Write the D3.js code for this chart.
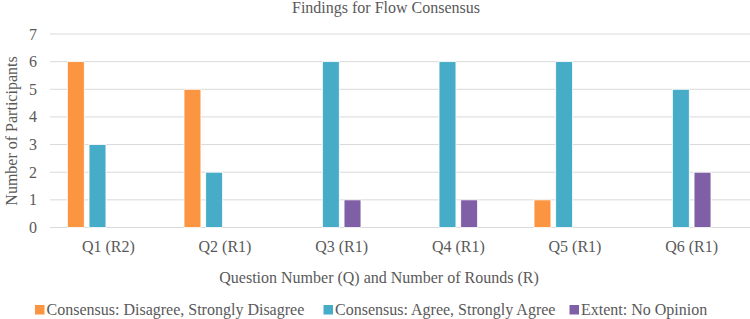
<!DOCTYPE html>
<html>
<head>
<meta charset="utf-8">
<script src="https://cdn.jsdelivr.net/npm/d3@7"></script>
<style>
  body { margin: 0; background: #fff; }
</style>
</head>
<body>
<svg id="chart" width="750" height="319" font-family="'Liberation Serif', 'DejaVu Serif', serif" fill="#595959"></svg>
<script>
// chart data
const questions = ["Q1 (R2)", "Q2 (R1)", "Q3 (R1)", "Q4 (R1)", "Q5 (R1)", "Q6 (R1)"];
const seriesNames = ["Consensus: Disagree, Strongly Disagree", "Consensus: Agree, Strongly Agree", "Extent: No Opinion"];
const disagreeValues = [6, 5, 0, 0, 1, 0];
const agreeValues = [3, 2, 6, 6, 6, 5];
const noOpinionValues = [0, 0, 1, 1, 0, 2];
const yTicks = [0, 1, 2, 3, 4, 5, 6, 7];
const seriesColors = ["#FB9542", "#46ACC8", "#7F5FA5"];

const svg = d3.select("#chart");
const serif = "'Liberation Serif', 'DejaVu Serif', serif";

// plot area
const plot = { left: 50, right: 750, top: 34, bottom: 227.5 };

// outer scale for questions, inner scale has 4 slots (the source chart keeps an empty 4th slot)
const x0 = d3.scaleBand()
             .domain(questions)
             .range([plot.left, plot.right]);
const x1 = d3.scaleBand()
             .domain([0, 1, 2, 3])
             .range([0, x0.bandwidth()])
             .paddingInner(0.22)
             .paddingOuter(0.8);
const y = d3.scaleLinear()
            .domain([0, 7])
            .range([plot.bottom, plot.top]);

// gridlines
svg.append("g")
   .selectAll("line")
   .data(yTicks)
   .join("line")
   .attr("x1", plot.left)
   .attr("x2", plot.right)
   .attr("y1", d => y(d))
   .attr("y2", d => y(d))
   .attr("stroke", "#D9D9D9")
   .attr("stroke-width", 1);

// y tick labels
svg.append("g")
   .selectAll("text")
   .data(yTicks)
   .join("text")
   .attr("x", 37)
   .attr("y", d => y(d) + 5.5)
   .attr("text-anchor", "end")
   .attr("font-family", serif)
   .attr("font-size", 16)
   .text(d => d);

// bars
const allSeries = [disagreeValues, agreeValues, noOpinionValues];
const barData = [];
allSeries.forEach((values, s) => {
    values.forEach((v, i) => {
        barData.push({ q: questions[i], s: s, v: v });
    });
});

svg.append("g")
   .selectAll("rect")
   .data(barData.filter(d => d.v > 0))
   .join("rect")
   .attr("x", d => x0(d.q) + x1(d.s))
   .attr("y", d => y(d.v))
   .attr("width", x1.bandwidth())
   .attr("height", d => y(0) - y(d.v))
   .attr("fill", d => seriesColors[d.s])
   .attr("stroke", "#ffffff")
   .attr("stroke-width", 0.8);

// category labels
svg.append("g")
   .selectAll("text")
   .data(questions)
   .join("text")
   .attr("x", d => x0(d) + x0.bandwidth() / 2)
   .attr("y", 252)
   .attr("text-anchor", "middle")
   .attr("font-family", serif)
   .attr("font-size", 16)
   .text(d => d);

// title
svg.append("text")
   .attr("x", 386)
   .attr("y", 13)
   .attr("text-anchor", "middle")
   .attr("font-family", serif)
   .attr("font-size", 16)
   .text("Findings for Flow Consensus");

// axis titles
svg.append("text")
   .attr("x", 379)
   .attr("y", 283)
   .attr("text-anchor", "middle")
   .attr("font-family", serif)
   .attr("font-size", 16)
   .text("Question Number (Q) and Number of Rounds (R)");

svg.append("text")
   .attr("transform", "translate(17,131) rotate(-90)")
   .attr("text-anchor", "middle")
   .attr("font-family", serif)
   .attr("font-size", 16)
   .text("Number of Participants");

// legend
const legendX = [35, 323.5, 569.5];
const legend = svg.append("g")
                  .selectAll("g")
                  .data(seriesNames)
                  .join("g")
                  .attr("transform", (d, i) => "translate(" + legendX[i] + ",305)");
legend.append("rect")
      .attr("width", 9.5)
      .attr("height", 9.5)
      .attr("fill", (d, i) => seriesColors[i]);
legend.append("text")
      .attr("x", 11.5)
      .attr("y", 10)
      .attr("font-family", serif)
      .attr("font-size", 16)
      .text(d => d);
</script>
</body>
</html>
